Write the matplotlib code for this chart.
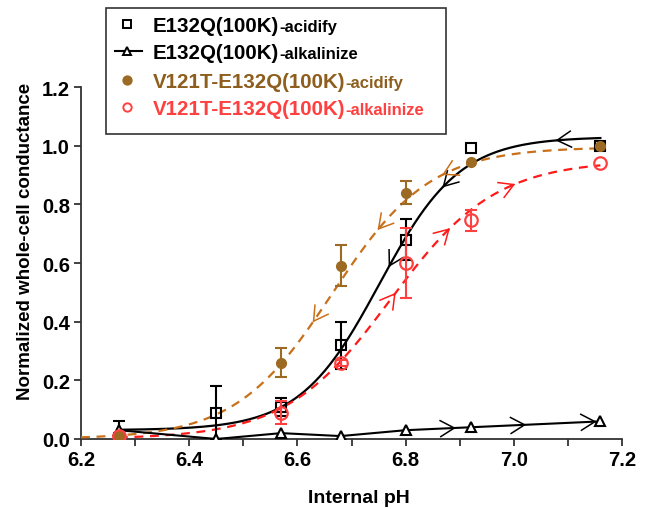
import numpy as np
import matplotlib
matplotlib.use("Agg")
import matplotlib.pyplot as plt
from matplotlib.lines import Line2D
from matplotlib.patches import Rectangle

plt.rcParams['font.family'] = ['Liberation Sans', 'DejaVu Sans']
plt.rcParams['font.weight'] = 'bold'

# data
ph = [6.27, 6.45, 6.57, 6.68, 6.80, 6.92, 7.16]

e132q_acid = [0.005, 0.09, 0.11, 0.32, 0.68, 0.993, 1.00]
e132q_acid_err = [0.0, 0.09, 0.03, 0.08, 0.07, 0.0, 0.0]

e132q_alk = [0.03, 0.0, 0.02, 0.01, 0.03, 0.04, 0.06]
e132q_alk_err = [0.03, 0.0, 0.0, 0.0, 0.0, 0.0, 0.0]

ph_v = [6.27, 6.57, 6.68, 6.80, 6.92, 7.16]
v121t_acid = [0.01, 0.26, 0.59, 0.84, 0.945, 1.00]
v121t_acid_err = [0.0, 0.05, 0.07, 0.04, 0.0, 0.0]

v121t_alk = [0.01, 0.09, 0.26, 0.60, 0.745, 0.94]
v121t_alk_err = [0.0, 0.04, 0.01, 0.12, 0.035, 0.0]

# Boltzmann fit parameters (bottom, top, V50, slope)
fit_black = [0.03, 1.03, 6.752, 0.074]
fit_brown = [0.0, 0.995, 6.665, 0.09]
fit_red = [0.0, 0.95, 6.772, 0.097]

# arrow positions along the curves
arrows_black = [7.08, 6.87, 6.77]
arrows_brown = [6.87, 6.75, 6.63]
arrows_red = [6.78, 6.88, 7.00]
arrows_tri = [6.89, 7.02, 7.15]

brown_fit_c = '#C8701A'
brown_pt_c = '#9C6A22'
red_pt_c = '#FF4040'
red_fit_c = '#FF1A1A'


def boltz(x, p):
    b, t, v, k = p
    return b + (t - b) / (1 + np.exp((v - x) / k))


def with_err(x, y, e):
    keep = [i for i in range(len(x)) if e[i] > 0]
    return [x[i] for i in keep], [y[i] for i in keep], [e[i] for i in keep]


fig = plt.figure(figsize=(6.63, 5.10), dpi=100)
ax = fig.add_axes([81 / 663, 70 / 510, 541 / 663, 352 / 510])
ax.set_xlim(6.2, 7.2)
ax.set_ylim(0, 1.2)

x_black = np.linspace(6.27, 7.16, 300)
x_brown = np.linspace(6.2, 7.16, 300)
x_red = np.linspace(6.27, 7.16, 300)
ax.plot(x_black, boltz(x_black, fit_black), color='black', lw=1.6, zorder=3)
ax.plot(x_brown, boltz(x_brown, fit_brown), color=brown_fit_c, lw=1.6, ls=(0, (4, 3)), zorder=3)
ax.plot(x_red, boltz(x_red, fit_red), color=red_fit_c, lw=1.6, ls=(0, (4, 3)), zorder=3)

# error bars (only where there is a visible bar)
err_sets = [
    (ph, e132q_alk, e132q_alk_err, 'black', 4),
    (ph, e132q_acid, e132q_acid_err, 'black', 4),
    (ph_v, v121t_acid, v121t_acid_err, brown_pt_c, 5),
    (ph_v, v121t_alk, v121t_alk_err, red_pt_c, 6),
]
for xs, ys, es, c, z in err_sets:
    ex, ey, ee = with_err(xs, ys, es)
    ax.errorbar(ex, ey, yerr=ee, fmt='none', ecolor=c, elinewidth=1.5, capsize=4.5,
                capthick=1.5, zorder=z)

# triangles connected point to point
ax.plot(ph, e132q_alk, color='black', lw=1.5, marker='^', ms=7, mfc='white', mec='black',
        mew=1.5, zorder=4)
ax.plot(ph, e132q_acid, ls='none', marker='s', ms=7, mfc='none', mec='black', mew=1.5, zorder=4)
ax.plot(ph_v, v121t_acid, ls='none', marker='o', ms=7, mfc=brown_pt_c, mec=brown_pt_c, zorder=5)
ax.plot(ph_v, v121t_alk, ls='none', marker='o', ms=9, mfc='none', mec=red_pt_c, mew=1.6, zorder=6)

# pixel scale for chevrons
sx = 541 / 1.0
sy = 352 / 1.2


def chevron(x, fx, color, direction, length=16, half=30):
    # direction: -1 points toward lower pH, +1 toward higher pH
    h = 1e-3
    y = fx(x)
    dx = sx * (2 * h)
    dy = sy * (fx(x + h) - fx(x - h))
    n = np.hypot(dx, dy)
    ux, uy = direction * dx / n, direction * dy / n
    for a in (np.radians(half), -np.radians(half)):
        bx = -(ux * np.cos(a) - uy * np.sin(a))
        by = -(ux * np.sin(a) + uy * np.cos(a))
        ax.plot([x, x + bx * length / sx], [y, y + by * length / sy], color=color, lw=1.1, zorder=3)


for x in arrows_black:
    chevron(x, lambda v: boltz(v, fit_black), 'black', -1)
for x in arrows_brown:
    chevron(x, lambda v: boltz(v, fit_brown), brown_fit_c, -1)
for x in arrows_red:
    chevron(x, lambda v: boltz(v, fit_red), red_fit_c, 1)
for x in arrows_tri:
    chevron(x, lambda v: np.interp(v, ph, e132q_alk), 'black', 1)

ax.spines['top'].set_visible(False)
ax.spines['right'].set_visible(False)
for s in ('left', 'bottom'):
    ax.spines[s].set_linewidth(1.3)
    ax.spines[s].set_color('#333333')
ax.set_xticks(np.arange(6.2, 7.21, 0.2))
ax.set_xticks(np.arange(6.3, 7.2, 0.2), minor=True)
ax.set_yticks(np.arange(0, 1.21, 0.2))
ax.xaxis.set_major_formatter(plt.FormatStrFormatter('%.1f'))
ax.yaxis.set_major_formatter(plt.FormatStrFormatter('%.1f'))
ax.tick_params(axis='both', which='both', length=5, width=1.3, color='#333333',
               labelsize=14.5, pad=3)
for lab in ax.get_xticklabels() + ax.get_yticklabels():
    lab.set_fontweight('bold')
ax.set_xlabel('Internal pH', fontsize=14, fontweight='bold')
ax.set_ylabel('Normalized whole-cell conductance', fontsize=13.5, fontweight='bold')
ax.xaxis.set_label_coords((359 - 81) / 541, (440 - 490) / 352)
ax.yaxis.set_label_coords((34 - 81) / 541, (440 - 241) / 352)

# legend drawn by hand (mixed font sizes)
W, H = 663, 510
fig.patches.append(Rectangle((106 / W, 1 - 135 / H), 340 / W, 126 / H, transform=fig.transFigure,
                             fill=False, ec='#333333', lw=1.2, zorder=10))

leg_rows = [
    ('E132Q(100K)', '-acidify', 'black', 's', 'none', 25),
    ('E132Q(100K)', '-alkalinize', 'black', '^', 'white', 52),
    ('V121T-E132Q(100K)', '-acidify', '#8E5E1E', 'o', brown_pt_c, 81),
    ('V121T-E132Q(100K)', '-alkalinize', red_pt_c, 'o', 'none', 108),
]
fig.canvas.draw()
renderer = fig.canvas.get_renderer()
for big, small, col, mk, fc, yc in leg_rows:
    ypos = 1 - yc / H
    if mk == '^':
        fig.add_artist(Line2D([115 / W, 142 / W], [ypos, ypos], color='black', lw=1.5,
                              transform=fig.transFigure))
    mec = red_pt_c if col == red_pt_c else (brown_pt_c if fc == brown_pt_c else 'black')
    fig.add_artist(Line2D([127 / W], [ypos], marker=mk, ms=6, mfc=fc, mec=mec, mew=1.4,
                          ls='none', transform=fig.transFigure))
    yb = 1 - (yc + 7) / H
    t1 = fig.text(153 / W, yb, big, fontsize=14.8, fontweight='bold', color=col, va='baseline')
    bb = t1.get_window_extent(renderer)
    fig.text(bb.x1 / fig.bbox.width, yb, small, fontsize=12, fontweight='bold', color=col,
             va='baseline')

fig.savefig('out.png', dpi=100)
